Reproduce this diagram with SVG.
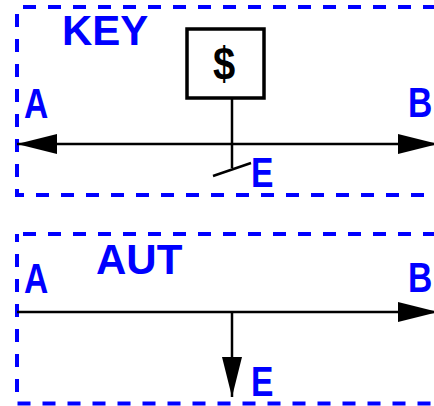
<svg xmlns="http://www.w3.org/2000/svg" width="434" height="406" viewBox="0 0 434 406">
<style>
.frame{fill:none;stroke:#0000ff;stroke-width:4;stroke-dasharray:13 12;stroke-dashoffset:19}
.lbl{font-family:"Liberation Sans",Arial,sans-serif;font-weight:bold;font-size:42px;fill:#0000ff}
.ln{stroke:#000;stroke-width:2.5;fill:none}
.box{fill:#fff;stroke:#000;stroke-width:3.5}
.dollar{font-family:"Liberation Sans",Arial,sans-serif;font-weight:bold;font-size:47px;fill:#000}
</style>
<defs>
<marker id="ah" viewBox="0 0 40 20" refX="40" refY="10" markerWidth="40" markerHeight="20" markerUnits="userSpaceOnUse" orient="auto-start-reverse">
<path d="M0,0 L40,10 L0,20 Z" fill="#000"/>
</marker>
</defs>
<rect width="434" height="406" fill="#fff"/>
<g id="key-frame">
<rect class="frame" x="17" y="7" width="425" height="188"/>
<text class="lbl" x="62" y="45">KEY</text>
</g>
<g id="aut-frame">
<rect class="frame" x="17" y="234" width="425" height="169.5"/>
<text class="lbl" x="96" y="274">AUT</text>
</g>
<g id="connectors">
<line class="ln" x1="17" y1="144" x2="438" y2="144" marker-start="url(#ah)" marker-end="url(#ah)"/>
<line class="ln" x1="232" y1="98" x2="232" y2="168"/>
<line class="ln" x1="213" y1="176" x2="251" y2="163"/>
<line class="ln" x1="17" y1="312" x2="438" y2="312" marker-end="url(#ah)"/>
<line class="ln" x1="232" y1="312" x2="232" y2="397" marker-end="url(#ah)"/>
</g>
<g id="dollar-box">
<rect class="box" x="187" y="29" width="77" height="69"/>
<text class="dollar" transform="translate(224,80) scale(0.85,1)" text-anchor="middle">$</text>
</g>
<g id="labels">
<text class="lbl" transform="translate(24,118) scale(0.8,1)">A</text>
<text class="lbl" transform="translate(408,117) scale(0.8,1)">B</text>
<text class="lbl" transform="translate(251,187) scale(0.8,1)">E</text>
<text class="lbl" transform="translate(24,293) scale(0.8,1)">A</text>
<text class="lbl" transform="translate(408,292) scale(0.8,1)">B</text>
<text class="lbl" transform="translate(251,396) scale(0.8,1)">E</text>
</g>
</svg>
